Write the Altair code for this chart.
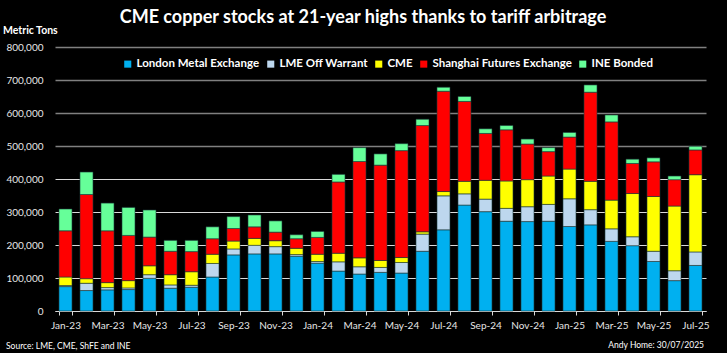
import altair as alt
import pandas as pd

months = ["Jan-23", "Feb-23", "Mar-23", "Apr-23", "May-23", "Jun-23", "Jul-23", "Aug-23",
          "Sep-23", "Oct-23", "Nov-23", "Dec-23", "Jan-24", "Feb-24", "Mar-24", "Apr-24",
          "May-24", "Jun-24", "Jul-24", "Aug-24", "Sep-24", "Oct-24", "Nov-24", "Dec-24",
          "Jan-25", "Feb-25", "Mar-25", "Apr-25", "May-25", "Jun-25", "Jul-25"]

series = ["London Metal Exchange", "LME Off Warrant", "CME", "Shanghai Futures Exchange", "INE Bonded"]
colors = ["#00B0F0", "#BDD7EE", "#FFFF00", "#FF0000", "#66FF99"]

# thousand metric tons
lme = [74, 62, 64, 65, 99, 69, 72, 103, 170, 173, 173, 166, 145, 121, 112, 117, 115, 181, 246, 321,
       301, 272, 271, 272, 256, 261, 211, 198, 150, 92, 138]
low = [3, 22, 7, 5, 11, 10, 6, 41, 18, 26, 22, 5, 5, 28, 22, 15, 32, 52, 103, 34,
       38, 39, 45, 51, 84, 46, 38, 27, 31, 30, 41]
cme = [26, 14, 15, 22, 27, 31, 41, 28, 24, 21, 18, 19, 22, 26, 27, 21, 15, 7, 13, 38,
       57, 83, 82, 86, 90, 86, 87, 131, 166, 196, 234]
shfe = [140, 255, 157, 137, 87, 71, 61, 47, 38, 35, 26, 29, 51, 216, 292, 289, 324, 322, 304, 242,
        142, 155, 108, 74, 97, 270, 237, 91, 105, 80, 75]
ine = [66, 68, 84, 85, 82, 33, 34, 36, 36, 36, 34, 12, 18, 23, 42, 34, 21, 19, 12, 15,
       14, 13, 15, 12, 14, 22, 21, 13, 12, 11, 11]

y_ticks = [0, 100000, 200000, 300000, 400000, 500000, 600000, 700000, 800000]

title_text = "CME copper stocks at 21-year highs thanks to tariff arbitrage"
unit_text = "Metric Tons"
source_text = "Source: LME, CME, ShFE and INE"
author_text = "Andy Home: 30/07/2025"

rows = []
for si, (name, vals) in enumerate(zip(series, [lme, low, cme, shfe, ine])):
    for m, v in zip(months, vals):
        rows.append({"month": m, "series": name, "value": v * 1000, "order": si})
df = pd.DataFrame(rows)

FONT = "Lato"

bars = alt.Chart(df).mark_bar(stroke="#1d3b3b", strokeWidth=0.6).encode(
    x=alt.X("month:N", sort=months, title=None,
            scale=alt.Scale(paddingInner=0.38, paddingOuter=0.19),
            axis=alt.Axis(values=months[::2], tickBand="extent", labelAngle=0,
                          labelColor="#e6e6e6", labelFont=FONT, labelFontSize=10,
                          labelPadding=5, domainColor="#d9d9d9", domainWidth=1.2,
                          tickColor="#d9d9d9", tickSize=4, grid=False)),
    y=alt.Y("value:Q", stack="zero", title=None,
            scale=alt.Scale(domain=[0, 800000], nice=False),
            axis=alt.Axis(values=y_ticks, labelExpr="format(datum.value, ',.0f')",
                          labelColor="#e6e6e6", labelFont=FONT,
                          labelFontSize=10, labelPadding=12, domain=False, ticks=False,
                          grid=True,
                          gridColor={"condition": {"test": "datum.value >= 450000", "value": "#808080"},
                                     "value": "#d9d9d9"},
                          gridWidth={"condition": {"test": "datum.value >= 450000", "value": 1.6},
                                     "value": 1})),
    color=alt.Color("series:N", scale=alt.Scale(domain=series, range=colors),
                    legend=alt.Legend(orient="none", legendX=67, legendY=11, direction="horizontal",
                                      title=None, symbolType="square", symbolSize=50,
                                      symbolStrokeWidth=0, labelColor="#ffffff", labelFont=FONT,
                                      labelFontSize=11.5, labelFontWeight="bold", columnPadding=5,
                                      labelOffset=3, columns=5)),
    order=alt.Order("order:Q", sort="ascending"),
)

title = alt.Chart(pd.DataFrame([{"t": title_text}])).mark_text(
    font=FONT, fontSize=18, fontWeight="bold", color="#ffffff", align="center", baseline="middle"
).encode(text="t:N", x=alt.value(308), y=alt.value(-29))

unit = alt.Chart(pd.DataFrame([{"t": unit_text}])).mark_text(
    font=FONT, fontSize=10.5, fontWeight="bold", color="#ffffff", align="left", baseline="middle"
).encode(text="t:N", x=alt.value(-52), y=alt.value(-16))

source = alt.Chart(pd.DataFrame([{"t": source_text}])).mark_text(
    font=FONT, fontSize=8.5, color="#ffffff", align="left", baseline="middle"
).encode(text="t:N", x=alt.value(-49), y=alt.value(299))

author = alt.Chart(pd.DataFrame([{"t": author_text}])).mark_text(
    font=FONT, fontSize=8.5, color="#ffffff", align="right", baseline="middle"
).encode(text="t:N", x=alt.value(649), y=alt.value(298))

chart = alt.layer(bars, title, unit, source, author).properties(
    width=651, height=264,
    background="#000000",
    autosize=alt.AutoSizeParams(type="none"),
    padding={"left": 55, "top": 47, "right": 21, "bottom": 42},
).configure_view(stroke=None)

chart.save("out.html", embed_options={"renderer": "svg", "actions": False})
